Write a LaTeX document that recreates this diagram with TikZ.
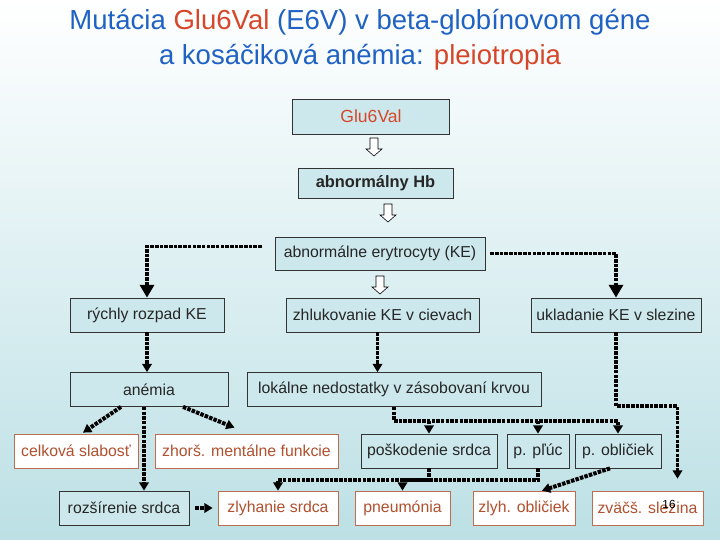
\documentclass[tikz,border=0pt]{standalone}
\usepackage{fontspec}
\setmainfont{Liberation Sans}
\usetikzlibrary{arrows.meta,positioning,calc}
\definecolor{titleblue}{RGB}{31,98,196}
\definecolor{mutred}{RGB}{214,70,42}
\definecolor{boxteal}{RGB}{204,232,236}
\definecolor{bgteal}{RGB}{188,224,229}
\definecolor{effborder}{RGB}{190,110,80}
\definecolor{efftext}{RGB}{176,80,46}

\begin{document}
\begin{tikzpicture}[
  x=0.03cm, y=-0.03cm,
  font=\fontsize{13.5}{16}\selectfont,
  cause/.style={
    draw=black!80,
    line width=0.6pt,
    fill=boxteal,
    text=black!85,
    inner sep=0pt,
    minimum height=1.02cm,
    minimum width=#1
  },
  effect/.style={
    draw=effborder,
    line width=0.6pt,
    fill=white,
    text=efftext,
    inner sep=0pt,
    minimum height=1.02cm,
    minimum width=#1
  },
  dots/.style={line width=3.4pt, dash pattern=on 3pt off 1pt},
  conn/.style={dots, -{Triangle[length=7pt,width=8pt]}},
  bigconn/.style={dots, -{Triangle[length=11pt,width=12pt]}},
  hollow/.pic={
    \draw[fill=white, line width=0.5pt] (-4,-9) -- (4,-9) -- (4,2) -- (8,2)
      -- (0,9) -- (-8,2) -- (-4,2) -- cycle;
  }
]

% -------- Background --------
\fill[top color=white, bottom color=bgteal] (0,0) rectangle (720,540);
\useasboundingbox (0,0) rectangle (720,540);

% -------- Title --------
\node[font=\fontsize{23.5}{29.8}\selectfont, text=titleblue, align=center] (title) at (360,39.5)
{Mutácia \textcolor{mutred}{Glu6Val} (E6V) v beta-globínovom géne\\
a kosáčiková anémia: \textcolor{mutred}{pleiotropia}};

% -------- Main chain --------
\node[cause=4.71cm, text=mutred, minimum height=1.05cm, font=\fontsize{15}{18}\selectfont] (glu) at (371,116.5) {Glu6Val};
\node[cause=4.65cm, minimum height=0.9cm, font=\fontsize{14}{16}\selectfont\bfseries] (hb) at (375.5,183) {abnormálny Hb};
\node[cause=6.30cm, minimum height=0.99cm] (ke) at (380,253.5) {abnormálne erytrocyty (KE)};

\pic at (374,147) {hollow};
\pic at (388,213) {hollow};
\pic at (380,285) {hollow};

% -------- Second row --------
\node[cause=4.62cm] (ryc) at (147,315) {rýchly rozpad KE};
\node[cause=5.79cm] (zhl) at (382.5,315) {zhlukovanie KE v cievach};
\node[cause=5.10cm] (ukl) at (616,315) {ukladanie KE v slezine};

% -------- Third row --------
\node[cause=4.74cm] (anem) at (149,389.5) {anémia};
\node[cause=8.82cm] (lok) at (394,389.5) {lokálne nedostatky v zásobovaní krvou};

% -------- Fourth row --------
\node[effect=3.72cm] (cel) at (76,451) {celková slabosť};
\node[effect=5.49cm] (zhor) at (246.5,451) {zhorš. mentálne funkcie};
\node[cause=4.08cm] (pos) at (429,451) {poškodenie srdca};
\node[cause=1.86cm] (pluc) at (538,451) {p. pľúc};
\node[cause=2.58cm] (obl) at (618,451) {p. obličiek};

% -------- Bottom row --------
\node[cause=3.90cm] (roz) at (124,508) {rozšírenie srdca};
\node[effect=3.60cm] (zlys) at (278,508) {zlyhanie srdca};
\node[effect=2.85cm] (pneu) at (402.5,508) {pneumónia};
\node[effect=3.06cm] (zlyo) at (524,508) {zlyh. obličiek};
\node[effect=3.33cm] (zvs) at (647.5,508) {zväčš. slezina};

% -------- Connectors --------
\draw[bigconn] ($(ke.west)+(-13,-7)$) -| (ryc.north);
\draw[bigconn] ($(ke.east)+(5,0)$) -| (ukl.north);
\draw[conn] (ryc.south) -- (ryc.south |- anem.north);
\draw[conn] ($(zhl.south)+(-5,0)$) -- ($(zhl.south |- lok.north)+(-5,0)$);
\draw[conn] (ukl.south) -- ++(0,74) -| ($(zvs.north)+(30,-12)$);

\draw[conn] ($(anem.south)+(-28,0)$) -- ($(cel.north)+(7,-1)$);
\draw[conn] ($(anem.south)+(34,0)$) -- ($(zhor.north)+(-12,-6)$);
\draw[conn] ($(anem.south)+(-5,0)$) -- ($(roz.north)+(20,0)$);
\draw[conn] ($(roz.east)+(6,0)$) -- ($(zlys.west)+(-5,0)$);

\coordinate (bus) at ($(lok.south)+(0,14)$);
\draw[conn] (lok.south) -- (bus) -| (obl.north);
\draw[conn] (bus -| pos.north) -- (pos.north);
\draw[conn] (bus -| pluc.north) -- (pluc.north);

\draw[conn] (pos.south) -- ++(0,12) -| (zlys.north);
\draw[conn] (pluc.south) -- ++(0,12) -| (pneu.north);
\draw[conn] ($(obl.south)+(-8,0)$) -- ($(zlyo.north)+(18,0)$);

% -------- Page number --------
\node[font=\fontsize{10}{12}\selectfont] (page) at (669,504) {16};

\end{tikzpicture}
\end{document}
